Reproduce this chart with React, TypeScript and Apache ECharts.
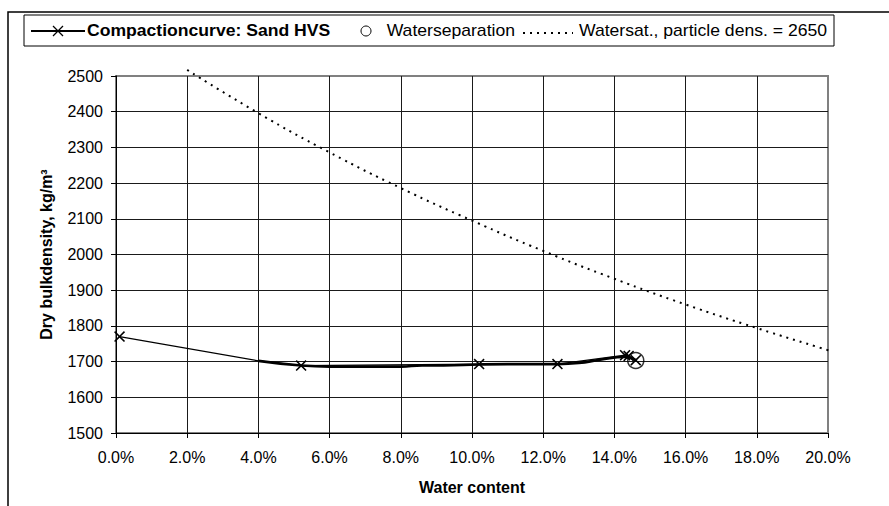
import React, { useEffect, useRef } from "react";
import * as echarts from "echarts";

// Compaction test: water content (%) against dry bulk density (kg/m³)
const compactionWater = [0.1, 4.0, 5.2, 10.2, 12.4, 14.3, 14.4, 14.6];
const compactionDensity = [1770, 1702, 1689, 1693, 1693, 1718, 1716, 1704];
// the 4.0 % point only bends the line, it carries no marker
const compactionMarked = [true, false, true, true, true, true, true, true];

// heavier fitted curve through the wet side of the test
const fitWater = [4.0, 5.2, 6.0, 7.0, 8.0, 8.6, 9.2, 10.2, 11.0, 12.4, 13.0, 13.6, 14.3, 14.6];
const fitDensity = [1702, 1689, 1686, 1686, 1686, 1689, 1689, 1692, 1693, 1693, 1696, 1705, 1713, 1704];

// water separation point
const separationWater = [14.6];
const separationDensity = [1703];

// saturation line for particle density 2650 kg/m³
const saturationWater = [2.0, 4.0, 6.0, 8.0, 10.0, 12.0, 14.0, 16.0, 18.0, 20.0, 20.3];
const saturationDensity = [2517, 2396, 2286, 2186, 2095, 2010, 1932, 1860, 1794, 1732, 1723];

const FONT = "Liberation Sans, Arial, sans-serif";
const X_MARK = "path://M1,0L5,4L9,0L10,1L6,5L10,9L9,10L5,6L1,10L0,9L4,5L0,1Z";
const LEGEND_STRETCH = 1.1;

export default function App() {
  const ref = useRef<HTMLDivElement>(null);

  useEffect(() => {
    if (!ref.current) return;
    const chart = echarts.init(ref.current, null, { renderer: "svg" });

    const legendY = 31;
    const legendText = (text: string, x: number, align: string, bold = false) => ({
      type: "text",
      x,
      y: legendY,
      scaleX: LEGEND_STRETCH,
      style: {
        text,
        fontFamily: FONT,
        fontSize: 16,
        fontWeight: bold ? "bold" : "normal",
        fill: "#000",
        verticalAlign: "middle",
        align,
      },
      z: 12,
    });

    const option: any = {
      animation: false,
      backgroundColor: "#ffffff",
      textStyle: { fontFamily: FONT },
      grid: {
        left: 116,
        right: 61,
        top: 76,
        bottom: 73,
        show: true,
        borderColor: "#808080",
        borderWidth: 2,
        backgroundColor: "transparent",
        outerBoundsMode: "none",
      },
      xAxis: {
        type: "value",
        min: 0,
        max: 20,
        interval: 2,
        name: "Water content",
        nameLocation: "middle",
        nameGap: 46,
        nameTextStyle: { fontFamily: FONT, fontSize: 16, fontWeight: "bold", color: "#000" },
        axisLine: { show: true, onZero: false, lineStyle: { color: "#000", width: 1 } },
        axisTick: { show: true, inside: false, length: 5, lineStyle: { color: "#000" } },
        axisLabel: {
          margin: 16,
          fontFamily: FONT,
          fontSize: 16,
          color: "#000",
          formatter: (v: number) => v.toFixed(1) + "%",
        },
        splitLine: {
          show: true,
          showMinLine: false,
          showMaxLine: false,
          lineStyle: { color: "#1a1a1a", width: 1 },
        },
      },
      yAxis: {
        type: "value",
        min: 1500,
        max: 2500,
        interval: 100,
        name: "Dry bulkdensity, kg/m³",
        nameLocation: "middle",
        nameGap: 62,
        nameTextStyle: { fontFamily: FONT, fontSize: 16, fontWeight: "bold", color: "#000" },
        axisLine: { show: true, onZero: false, lineStyle: { color: "#000", width: 1 } },
        axisTick: { show: true, inside: false, length: 5, lineStyle: { color: "#000" } },
        axisLabel: {
          margin: 13,
          fontFamily: FONT,
          fontSize: 16,
          color: "#000",
          formatter: (v: number) => String(v),
        },
        splitLine: {
          show: true,
          showMinLine: false,
          showMaxLine: false,
          lineStyle: { color: "#1a1a1a", width: 1 },
        },
      },
      series: [
        {
          name: "Watersat., particle dens. = 2650",
          type: "line",
          clip: false,
          smooth: true,
          symbol: "none",
          lineStyle: { color: "#000", width: 2, type: [2, 5], cap: "butt" },
          data: saturationWater.map((w, i) => [w, saturationDensity[i]]),
          z: 2,
        },
        {
          name: "Waterseparation",
          type: "scatter",
          symbol: "circle",
          symbolSize: 16,
          itemStyle: { color: "transparent", borderColor: "#000", borderWidth: 1.5 },
          data: separationWater.map((w, i) => [w, separationDensity[i]]),
          z: 3,
        },
        {
          name: "fit",
          type: "line",
          smooth: true,
          symbol: "none",
          silent: true,
          lineStyle: { color: "#000", width: 2.6 },
          data: fitWater.map((w, i) => [w, fitDensity[i]]),
          z: 4,
        },
        {
          name: "Compactioncurve: Sand HVS",
          type: "line",
          symbol: X_MARK,
          symbolSize: 11,
          itemStyle: { color: "#000" },
          lineStyle: { color: "#000", width: 1.2 },
          data: compactionWater.map((w, i) =>
            compactionMarked[i]
              ? { value: [w, compactionDensity[i]] }
              : { value: [w, compactionDensity[i]], symbol: "none" }
          ),
          z: 5,
        },
      ],
      graphic: [
        // outer chart frame
        {
          type: "rect",
          shape: { x: 8, y: 12, width: 1000, height: 1000 },
          style: { fill: "none", stroke: "#000", lineWidth: 1.5 },
          z: 10,
        },
        // legend box
        {
          type: "rect",
          shape: { x: 24, y: 15, width: 810, height: 31 },
          style: { fill: "#fff", stroke: "#000", lineWidth: 1 },
          z: 11,
        },
        {
          type: "line",
          shape: { x1: 31, y1: legendY, x2: 85, y2: legendY },
          style: { stroke: "#000", lineWidth: 2 },
          z: 12,
        },
        {
          type: "line",
          shape: { x1: 53, y1: legendY - 5, x2: 63, y2: legendY + 5 },
          style: { stroke: "#000", lineWidth: 1.2 },
          z: 12,
        },
        {
          type: "line",
          shape: { x1: 63, y1: legendY - 5, x2: 53, y2: legendY + 5 },
          style: { stroke: "#000", lineWidth: 1.2 },
          z: 12,
        },
        legendText("Compactioncurve: Sand HVS", 87, "left", true),
        {
          type: "circle",
          shape: { cx: 366, cy: legendY, r: 5 },
          style: { fill: "none", stroke: "#000", lineWidth: 1 },
          z: 12,
        },
        legendText("Waterseparation", 515, "right"),
        {
          type: "line",
          shape: { x1: 523, y1: legendY + 2, x2: 573, y2: legendY + 2 },
          style: { stroke: "#000", lineWidth: 2, lineDash: [2, 5] },
          z: 12,
        },
        legendText("Watersat., particle dens. = 2650", 827, "right"),
      ],
    };

    chart.setOption(option);
    return () => chart.dispose();
  }, []);

  return (
    <div
      ref={ref}
      style={{ position: "fixed", left: 0, top: 0, width: 889, height: 506, background: "#fff" }}
    />
  );
}
